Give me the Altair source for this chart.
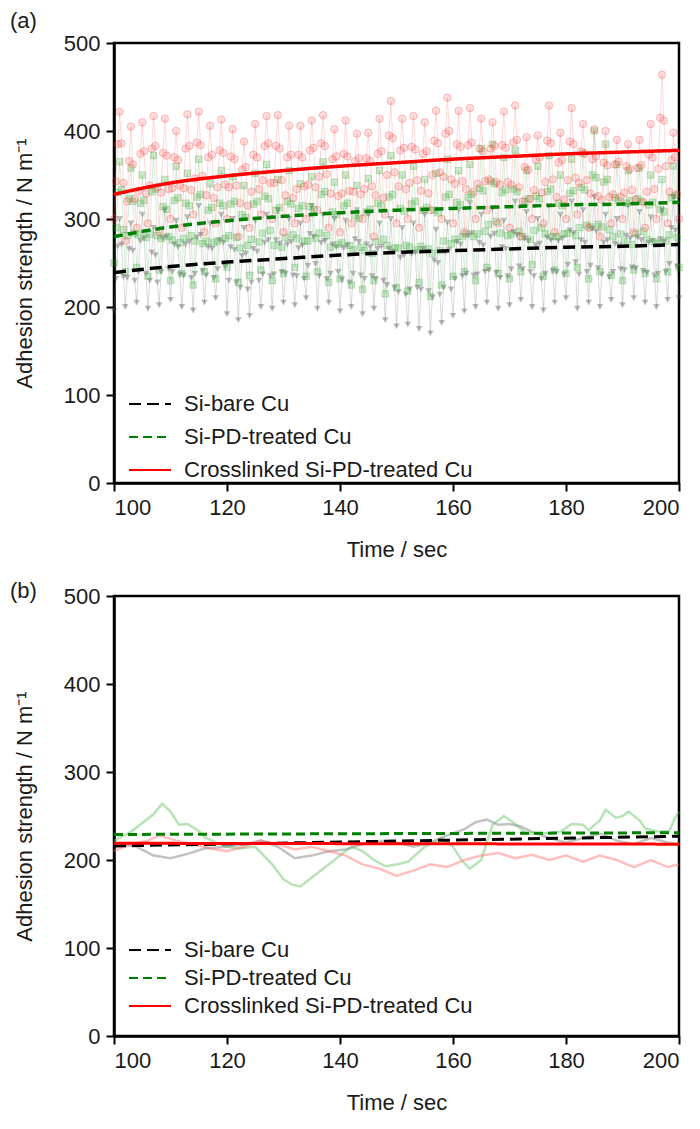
import altair as alt
import pandas as pd

FONT = "Liberation Sans"
SERIES = ["Si-bare Cu", "Si-PD-treated Cu", "Crosslinked Si-PD-treated Cu"]
LINE_COLORS = ["#000000", "#008000", "#ff0000"]
DASHES = [[12, 6], [9, 5], [1, 0]]

# ---------------- panel (a): raw peel data (t = 100..200, every 1/3 s) ----------------
t_raw = [100 + i / 3 for i in range(301)]

gray_raw = [
    195, 232, 269, 300, 271, 234,  200, 233, 266, 295, 264, 230,  205, 240, 275, 305, 278, 238,
    198, 230, 262, 290, 259, 228,  202, 240, 278, 310, 280, 243,  208, 240, 271, 298, 268, 237,
    200, 236, 271, 302, 274, 233,  196, 238, 279, 315, 282, 241,  205, 236, 268, 295, 266, 233,
    210, 243, 276, 305, 273, 246,  192, 230, 268, 300, 265, 228,  185, 222, 258, 290, 261, 220,
    190, 228, 266, 298, 263, 230,  200, 237, 273, 305, 276, 235,  198, 237, 276, 310, 272, 240,
    205, 238, 271, 300, 274, 236,  202, 235, 267, 295, 270, 232,  210, 247, 283, 315, 280, 249,
    198, 235, 273, 305, 275, 232,  205, 238, 271, 300, 268, 240,  195, 231, 267, 298, 270, 228,
    200, 238, 277, 310, 274, 236,  192, 232, 271, 305, 268, 235,  198, 232, 266, 295, 269, 230,
    185, 225, 266, 300, 263, 222,  178, 217, 256, 290, 259, 214,  180, 220, 260, 295, 262, 222,
    175, 220, 266, 305, 263, 218,  170, 211, 253, 288, 250, 214,  182, 222, 262, 296, 265, 220,
    190, 232, 274, 310, 271, 235,  195, 238, 281, 318, 284, 236,  200, 237, 273, 305, 270, 240,
    205, 242, 280, 312, 283, 239,  198, 233, 268, 298, 266, 235,  202, 243, 285, 320, 282, 246,
    208, 243, 278, 308, 275, 240,  200, 235, 270, 300, 272, 232,  196, 238, 279, 315, 276, 241,
    205, 240, 275, 305, 278, 237,  210, 248, 287, 320, 284, 251,  198, 237, 276, 310, 273, 240,
    205, 247, 289, 325, 286, 244,  200, 237, 273, 305, 276, 234,  208, 240, 272, 300, 270, 243,
    202, 242, 281, 315, 278, 245,  210, 244, 279, 308, 276, 241,  205, 239, 273, 302, 275, 236,
    200, 238, 277, 310, 274, 240,  208, 249, 290, 325, 287, 246,
    210,
]

green_raw = [
    250, 290, 330, 365, 333, 288,  240, 281, 323, 358, 320, 284,  245, 282, 318, 350, 321, 279,
    235, 283, 331, 372, 334, 281,  242, 278, 314, 345, 311, 280,  230, 276, 321, 360, 324, 273,
    238, 278, 318, 352, 315, 281,  225, 275, 325, 368, 328, 272,  240, 275, 310, 340, 313, 273,
    232, 275, 318, 355, 315, 278,  245, 281, 317, 348, 320, 279,  228, 267, 305, 338, 302, 270,
    236, 277, 317, 352, 320, 274,  242, 284, 326, 362, 323, 287,  230, 270, 310, 345, 313, 268,
    238, 279, 320, 355, 317, 282,  245, 278, 312, 340, 315, 275,  235, 275, 314, 348, 311, 278,
    240, 284, 328, 365, 331, 281,  228, 268, 308, 342, 305, 271,  232, 273, 315, 350, 318, 270,
    225, 265, 304, 338, 301, 268,  220, 264, 308, 346, 311, 261,  230, 274, 318, 355, 315, 277,
    215, 270, 325, 372, 328, 267,  222, 267, 312, 350, 309, 270,  218, 268, 317, 360, 320, 265,
    228, 269, 310, 345, 313, 266,  212, 261, 310, 352, 307, 264,  225, 275, 325, 368, 328, 272,
    235, 277, 319, 355, 316, 280,  240, 283, 325, 362, 328, 280,  230, 283, 335, 380, 332, 286,
    245, 294, 343, 385, 340, 297,  238, 284, 330, 370, 333, 281,  232, 283, 334, 378, 331, 286,
    240, 280, 320, 355, 323, 277,  248, 287, 326, 360, 323, 290,  235, 283, 331, 372, 334, 280,
    242, 280, 318, 350, 315, 283,  238, 284, 329, 368, 332, 281,  245, 290, 336, 375, 333, 293,
    232, 291, 350, 400, 347, 294,  240, 291, 342, 385, 345, 288,  236, 280, 324, 362, 321, 283,
    230, 274, 318, 355, 321, 271,  242, 283, 323, 358, 320, 286,  238, 277, 316, 350, 319, 274,
    232, 272, 311, 345, 308, 275,  240, 282, 324, 360, 327, 279,
    245,
]

red_raw = [
    300, 343, 385, 422, 386, 341,  275, 320, 366, 405, 362, 323,  290, 332, 374, 410, 377, 329,
    295, 338, 380, 417, 383, 336,  285, 330, 375, 414, 372, 334,  300, 335, 370, 400, 367, 338,
    290, 335, 380, 419, 383, 333,  305, 346, 387, 422, 384, 349,  285, 327, 370, 406, 373, 324,
    295, 336, 378, 413, 375, 339,  300, 336, 371, 402, 368, 338,  280, 318, 356, 388, 359, 315,
    290, 331, 373, 408, 370, 334,  305, 344, 383, 417, 386, 341,  300, 341, 383, 418, 380, 344,
    285, 327, 370, 406, 373, 324,  295, 334, 373, 406, 370, 337,  300, 339, 378, 412, 381, 336,
    310, 348, 386, 418, 383, 351,  290, 329, 368, 402, 371, 326,  285, 329, 374, 412, 371, 332,
    295, 331, 366, 397, 369, 328,  300, 334, 369, 398, 366, 337,  280, 327, 374, 414, 377, 324,
    305, 350, 395, 434, 392, 353,  295, 337, 378, 414, 381, 334,  300, 341, 382, 417, 379, 344,
    290, 332, 374, 410, 377, 329,  310, 350, 389, 423, 386, 353,  300, 348, 397, 438, 400, 345,
    295, 340, 385, 423, 382, 343,  285, 334, 384, 426, 387, 331,  300, 340, 380, 414, 377, 343,
    310, 345, 380, 410, 383, 342,  295, 339, 384, 422, 381, 342,  290, 339, 387, 429, 390, 336,
    280, 320, 359, 393, 356, 323,  300, 333, 367, 395, 370, 330,  295, 342, 389, 429, 386, 345,
    285, 325, 364, 398, 367, 322,  300, 344, 388, 426, 385, 347,  305, 341, 377, 408, 374, 344,
    290, 329, 368, 402, 371, 326,  280, 322, 364, 400, 361, 325,  295, 328, 362, 390, 365, 325,
    300, 330, 360, 385, 357, 333,  285, 322, 358, 390, 361, 319,  290, 331, 373, 408, 370, 334,
    300, 357, 415, 464, 412, 360,  295, 331, 367, 398, 370, 328,
    300,
]

# fitted trend curves of panel (a)
fit_t = [100, 110, 120, 130, 140, 150, 160, 170, 180, 190, 200]
fit_black = [239, 246, 251, 255, 259, 262, 264, 266, 268, 269, 271]
fit_green = [280, 291, 298, 303, 307, 310, 312, 314, 316, 317, 319]
fit_red = [328, 341, 349, 355, 360, 364, 368, 371, 374, 376, 378]

# ---------------- panel (b) ----------------
b_gray_t = [100, 104, 107, 110, 113, 116, 120, 123, 126, 129, 132, 135, 138, 141, 144, 147, 150, 153,
            156, 159, 162, 164, 166, 168, 170, 172, 174, 177, 180, 183, 186, 189, 192, 195, 198, 200]
b_gray_v = [220, 215, 205, 202, 207, 213, 215, 218, 222, 215, 202, 205, 210, 212, 218, 222, 220, 215,
            220, 228, 235, 243, 246, 240, 241, 238, 232, 225, 220, 225, 230, 222, 218, 225, 220, 218]

b_green_t = [100, 103, 105, 107, 108.5, 110, 111.5, 113, 115, 116, 118, 120, 122, 125, 128, 130, 131.5,
             133, 134, 136, 138, 140, 142, 144, 146, 148, 150, 152, 155, 158, 160, 161.5, 163, 165, 167,
             169, 171, 173, 176, 179, 181, 183, 184, 186, 187, 188.8, 190, 191.1, 193, 194, 196.5,
             198.3, 199.3, 200]
b_green_v = [222, 232, 242, 252, 264, 255, 240, 241, 233, 226, 220, 215, 213, 215, 195, 178, 172,
             170, 175, 185, 195, 205, 215, 210, 200, 193, 195, 198, 215, 225, 215, 200, 190, 200, 240,
             250, 241, 230, 230, 232, 241, 240, 234, 245, 257, 248, 250, 255, 245, 236, 232,
             233, 248, 255]

b_red_t = [100, 103, 106, 108, 111, 114, 117, 120, 123, 126, 129, 132, 135, 138, 141, 144, 147, 150,
           153, 156, 159, 162, 165, 168, 171, 174, 177, 180, 183, 186, 189, 192, 195, 198, 200]
b_red_v = [210, 218, 222, 228, 222, 218, 213, 210, 215, 222, 218, 212, 215, 210, 205, 195, 190, 182,
           188, 195, 192, 200, 205, 208, 202, 206, 200, 205, 198, 205, 200, 192, 200, 192, 195]

b_fit_t = [100, 200]
b_fit_black = [216, 227]
b_fit_green = [229, 231]
b_fit_red = [219, 218]

W, H = 565, 440


def xenc():
    return alt.X("t:Q", scale=alt.Scale(domain=[100, 200], nice=False),
                 axis=alt.Axis(title="Time / sec", values=[100, 120, 140, 160, 180, 200]))


def yenc():
    return alt.Y("v:Q", scale=alt.Scale(domain=[0, 500], nice=False),
                 axis=alt.Axis(title="Adhesion strength / N m\u207b\u00b9",
                               values=[0, 100, 200, 300, 400, 500]))


def fit_layer(ts, ys_list, legend_y, row_pad, width):
    rows = []
    for name, ys in zip(SERIES, ys_list):
        for t, v in zip(ts, ys):
            rows.append({"t": t, "v": v, "series": name})
    df = pd.DataFrame(rows)
    leg = alt.Legend(title=None, orient="none", legendX=24, legendY=legend_y,
                     symbolType="M-2,0H2", symbolSize=441, symbolStrokeWidth=2.2,
                     labelFont=FONT, labelFontSize=22, labelColor="#1a1a1a", labelLimit=0,
                     labelOffset=22, rowPadding=row_pad, padding=0)
    return alt.Chart(df).mark_line(strokeWidth=width, interpolate="monotone").encode(
        x=xenc(), y=yenc(),
        color=alt.Color("series:N", scale=alt.Scale(domain=SERIES, range=LINE_COLORS), legend=leg),
        strokeDash=alt.StrokeDash("series:N", scale=alt.Scale(domain=SERIES, range=DASHES), legend=leg),
        detail="series:N",
    )


def raw_df(ts, vs):
    return pd.DataFrame({"t": ts, "v": vs})


# ---- panel (a) ----
dg = raw_df(t_raw, gray_raw)
dgr = raw_df(t_raw, green_raw)
dr = raw_df(t_raw, red_raw)

a_layers = [
    alt.Chart(dg).mark_line(color="#808080", strokeWidth=1, opacity=0.3).encode(x=xenc(), y=yenc()),
    alt.Chart(dg).mark_point(shape="triangle-down", size=45, filled=True, color="#404040",
                             opacity=0.35).encode(x=xenc(), y=yenc()),
    alt.Chart(dgr).mark_line(color="#33aa33", strokeWidth=1, opacity=0.2).encode(x=xenc(), y=yenc()),
    alt.Chart(dgr).mark_point(shape="square", size=42, fill="#22a022", fillOpacity=0.22,
                              stroke="#22a022", strokeOpacity=0.25, strokeWidth=1).encode(x=xenc(), y=yenc()),
    alt.Chart(dr).mark_line(color="#ff6666", strokeWidth=1, opacity=0.25).encode(x=xenc(), y=yenc()),
    alt.Chart(dr).mark_point(shape="circle", size=55, fill="#ff3030", fillOpacity=0.15,
                             stroke="#ff3030", strokeOpacity=0.3, strokeWidth=1).encode(x=xenc(), y=yenc()),
    fit_layer(fit_t, [fit_black, fit_green, fit_red], 349, 10, 3.5),
]

top = alt.layer(*a_layers).properties(
    width=W, height=H,
    title=alt.TitleParams("(a)", anchor="start", frame="group", dx=-104, offset=-1,
                          fontSize=22, fontWeight="normal", font=FONT, color="#1a1a1a"),
)

# ---- panel (b) ----
b_layers = [
    alt.Chart(raw_df(b_gray_t, b_gray_v)).mark_line(color="#999999", strokeWidth=2.5, opacity=0.6).encode(x=xenc(), y=yenc()),
    alt.Chart(raw_df(b_green_t, b_green_v)).mark_line(color="#60c060", strokeWidth=2.5, opacity=0.45).encode(x=xenc(), y=yenc()),
    alt.Chart(raw_df(b_red_t, b_red_v)).mark_line(color="#ff7070", strokeWidth=2.5, opacity=0.45).encode(x=xenc(), y=yenc()),
    fit_layer(b_fit_t, [b_fit_black, b_fit_green, b_fit_red], 342, 5, 3),
]

bottom = alt.layer(*b_layers).properties(
    width=W, height=H,
    title=alt.TitleParams("(b)", anchor="start", frame="group", dx=-104, offset=-5, dy=13,
                          fontSize=22, fontWeight="normal", font=FONT, color="#1a1a1a"),
)

chart = alt.vconcat(top, bottom, spacing=16).resolve_scale(
    color="independent", strokeDash="independent"
).resolve_legend(color="independent", strokeDash="independent").properties(
    padding=0
).configure_axis(
    domainColor="black", domainWidth=2.5, tickColor="black", tickWidth=2, tickSize=8,
    labelFont=FONT, labelFontSize=22, labelColor="#1a1a1a", labelPadding=6,
    titleFont=FONT, titleFontSize=22, titleFontWeight="normal", titleColor="#1a1a1a",
    grid=False,
).configure_axisY(titlePadding=27).configure_axisX(titlePadding=21).configure_view(
    stroke="black", strokeWidth=2.5
)

chart.save("out.html", embed_options={"renderer": "svg", "actions": False})
